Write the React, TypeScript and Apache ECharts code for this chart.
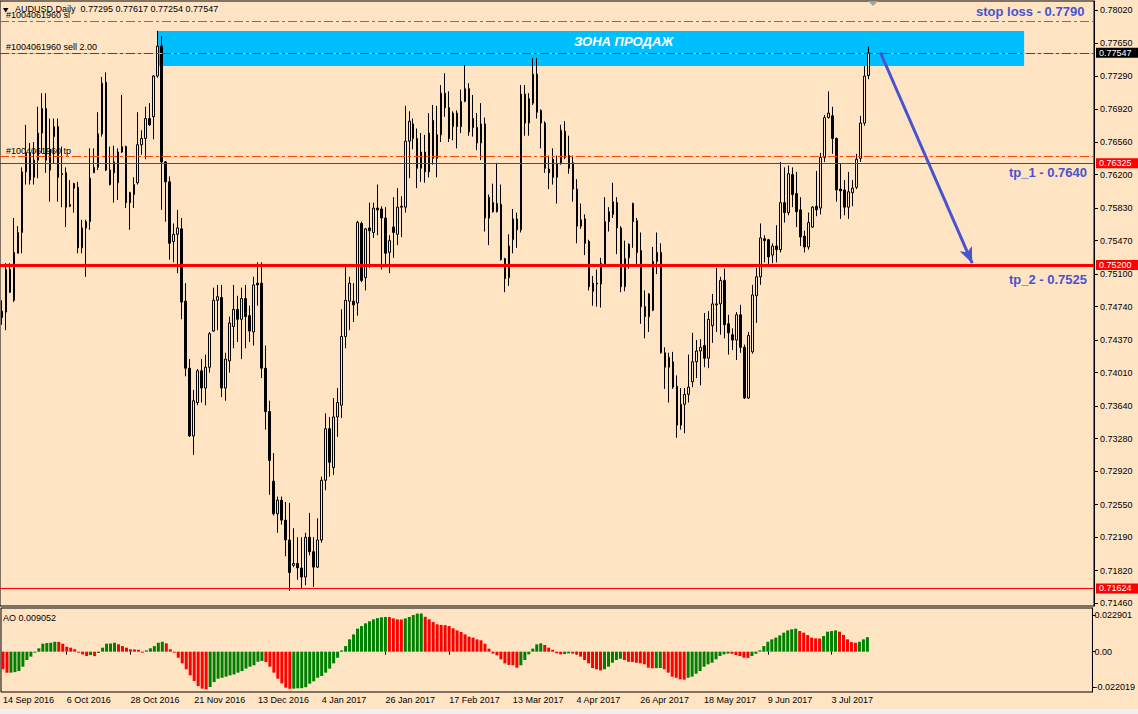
import React, { useEffect, useRef } from 'react';
import * as echarts from 'echarts';

// [open, close, low, high] — AUDUSD daily, 14 Sep 2016 .. 14 Jul 2017
const ohlc: number[][] = [
  [0.7469, 0.7462, 0.7454, 0.7481], [0.7468, 0.7515, 0.7448, 0.7522], [0.7515, 0.7490, 0.7489, 0.7522], [0.7481, 0.7534, 0.7479, 0.7572], [0.7533, 0.7556, 0.7533, 0.7563],
  [0.7556, 0.7623, 0.7533, 0.7628], [0.7623, 0.7644, 0.7609, 0.7675], [0.7644, 0.7614, 0.7609, 0.7655], [0.7617, 0.7636, 0.7609, 0.7656], [0.7636, 0.7666, 0.7616, 0.7695],
  [0.7666, 0.7693, 0.7644, 0.7710], [0.7693, 0.7636, 0.7622, 0.7710], [0.7625, 0.7648, 0.7590, 0.7682], [0.7662, 0.7673, 0.7632, 0.7682], [0.7673, 0.7617, 0.7590, 0.7682],
  [0.7621, 0.7620, 0.7584, 0.7651], [0.7622, 0.7584, 0.7562, 0.7628], [0.7585, 0.7587, 0.7584, 0.7614], [0.7610, 0.7605, 0.7578, 0.7611], [0.7606, 0.7539, 0.7533, 0.7612],
  [0.7539, 0.7561, 0.7533, 0.7570], [0.7561, 0.7568, 0.7507, 0.7570], [0.7568, 0.7616, 0.7559, 0.7649], [0.7622, 0.7628, 0.7622, 0.7649], [0.7628, 0.7665, 0.7625, 0.7689],
  [0.7665, 0.7721, 0.7662, 0.7728], [0.7722, 0.7625, 0.7624, 0.7733], [0.7625, 0.7609, 0.7608, 0.7651], [0.7622, 0.7634, 0.7589, 0.7652], [0.7611, 0.7645, 0.7592, 0.7649],
  [0.7645, 0.7651, 0.7644, 0.7708], [0.7651, 0.7589, 0.7583, 0.7652], [0.7600, 0.7589, 0.7559, 0.7601], [0.7598, 0.7609, 0.7583, 0.7617], [0.7611, 0.7653, 0.7609, 0.7689],
  [0.7653, 0.7660, 0.7642, 0.7669], [0.7660, 0.7682, 0.7637, 0.7695], [0.7682, 0.7675, 0.7674, 0.7699], [0.7684, 0.7729, 0.7659, 0.7730], [0.7729, 0.7762, 0.7727, 0.7779],
  [0.7762, 0.7634, 0.7581, 0.7773], [0.7634, 0.7612, 0.7568, 0.7635], [0.7612, 0.7544, 0.7526, 0.7618], [0.7546, 0.7554, 0.7523, 0.7566], [0.7554, 0.7561, 0.7511, 0.7581],
  [0.7560, 0.7479, 0.7460, 0.7572], [0.7480, 0.7406, 0.7397, 0.7500], [0.7406, 0.7331, 0.7330, 0.7416], [0.7331, 0.7370, 0.7310, 0.7382], [0.7368, 0.7403, 0.7365, 0.7405],
  [0.7403, 0.7384, 0.7368, 0.7416], [0.7384, 0.7407, 0.7365, 0.7421], [0.7407, 0.7444, 0.7401, 0.7446], [0.7447, 0.7481, 0.7446, 0.7495], [0.7481, 0.7485, 0.7448, 0.7498],
  [0.7484, 0.7384, 0.7374, 0.7498], [0.7384, 0.7416, 0.7370, 0.7423], [0.7414, 0.7456, 0.7401, 0.7463], [0.7452, 0.7471, 0.7428, 0.7498], [0.7471, 0.7460, 0.7435, 0.7486],
  [0.7460, 0.7483, 0.7416, 0.7495], [0.7483, 0.7463, 0.7428, 0.7498], [0.7464, 0.7447, 0.7435, 0.7475], [0.7446, 0.7498, 0.7431, 0.7507], [0.7500, 0.7498, 0.7475, 0.7523],
  [0.7500, 0.7406, 0.7395, 0.7523], [0.7406, 0.7358, 0.7338, 0.7431], [0.7358, 0.7304, 0.7266, 0.7370], [0.7281, 0.7245, 0.7243, 0.7312], [0.7245, 0.7260, 0.7224, 0.7264],
  [0.7260, 0.7238, 0.7233, 0.7264], [0.7238, 0.7216, 0.7198, 0.7258], [0.7216, 0.7180, 0.7160, 0.7257], [0.7188, 0.7190, 0.7186, 0.7229], [0.7190, 0.7185, 0.7172, 0.7219],
  [0.7185, 0.7175, 0.7163, 0.7219], [0.7175, 0.7219, 0.7166, 0.7224], [0.7219, 0.7203, 0.7199, 0.7246], [0.7203, 0.7186, 0.7164, 0.7219], [0.7186, 0.7216, 0.7185, 0.7240],
  [0.7216, 0.7282, 0.7213, 0.7286], [0.7282, 0.7339, 0.7271, 0.7356], [0.7339, 0.7302, 0.7286, 0.7352], [0.7296, 0.7352, 0.7288, 0.7373], [0.7352, 0.7368, 0.7330, 0.7384],
  [0.7365, 0.7441, 0.7351, 0.7471], [0.7441, 0.7481, 0.7428, 0.7518], [0.7480, 0.7500, 0.7448, 0.7507], [0.7480, 0.7476, 0.7457, 0.7500], [0.7478, 0.7567, 0.7464, 0.7569],
  [0.7566, 0.7503, 0.7501, 0.7568], [0.7506, 0.7560, 0.7492, 0.7561], [0.7561, 0.7558, 0.7517, 0.7589], [0.7556, 0.7583, 0.7550, 0.7589], [0.7583, 0.7581, 0.7553, 0.7609],
  [0.7582, 0.7572, 0.7515, 0.7585], [0.7572, 0.7533, 0.7520, 0.7584], [0.7534, 0.7547, 0.7511, 0.7553], [0.7562, 0.7556, 0.7528, 0.7595], [0.7554, 0.7584, 0.7542, 0.7605],
  [0.7585, 0.7584, 0.7551, 0.7596], [0.7584, 0.7657, 0.7578, 0.7696], [0.7657, 0.7679, 0.7616, 0.7690], [0.7676, 0.7660, 0.7648, 0.7682], [0.7660, 0.7627, 0.7605, 0.7671],
  [0.7627, 0.7645, 0.7612, 0.7666], [0.7645, 0.7623, 0.7611, 0.7664], [0.7623, 0.7666, 0.7617, 0.7688], [0.7680, 0.7638, 0.7631, 0.7697], [0.7638, 0.7664, 0.7617, 0.7696],
  [0.7664, 0.7710, 0.7656, 0.7719], [0.7710, 0.7694, 0.7684, 0.7732], [0.7694, 0.7660, 0.7656, 0.7712], [0.7673, 0.7688, 0.7658, 0.7690], [0.7688, 0.7673, 0.7649, 0.7691],
  [0.7673, 0.7701, 0.7666, 0.7714], [0.7701, 0.7715, 0.7700, 0.7741], [0.7715, 0.7667, 0.7663, 0.7721], [0.7682, 0.7672, 0.7662, 0.7708], [0.7672, 0.7655, 0.7647, 0.7688],
  [0.7655, 0.7676, 0.7636, 0.7699], [0.7676, 0.7572, 0.7557, 0.7683], [0.7572, 0.7595, 0.7542, 0.7598], [0.7589, 0.7579, 0.7578, 0.7610], [0.7579, 0.7588, 0.7578, 0.7633],
  [0.7587, 0.7526, 0.7525, 0.7609], [0.7527, 0.7505, 0.7490, 0.7528], [0.7506, 0.7541, 0.7497, 0.7554], [0.7548, 0.7571, 0.7533, 0.7582], [0.7571, 0.7559, 0.7539, 0.7578],
  [0.7559, 0.7709, 0.7556, 0.7719], [0.7709, 0.7677, 0.7663, 0.7719], [0.7677, 0.7704, 0.7663, 0.7710], [0.7699, 0.7731, 0.7697, 0.7749], [0.7731, 0.7689, 0.7682, 0.7749],
  [0.7691, 0.7677, 0.7649, 0.7692], [0.7677, 0.7627, 0.7622, 0.7679], [0.7626, 0.7622, 0.7604, 0.7641], [0.7637, 0.7617, 0.7609, 0.7649], [0.7617, 0.7632, 0.7588, 0.7641],
  [0.7632, 0.7669, 0.7631, 0.7675], [0.7668, 0.7639, 0.7637, 0.7679], [0.7641, 0.7627, 0.7621, 0.7663], [0.7633, 0.7604, 0.7590, 0.7641], [0.7604, 0.7563, 0.7544, 0.7615],
  [0.7563, 0.7570, 0.7560, 0.7588], [0.7571, 0.7544, 0.7531, 0.7576], [0.7546, 0.7496, 0.7492, 0.7548], [0.7491, 0.7500, 0.7475, 0.7508], [0.7500, 0.7499, 0.7474, 0.7515],
  [0.7499, 0.7522, 0.7473, 0.7528], [0.7521, 0.7568, 0.7519, 0.7595], [0.7568, 0.7579, 0.7557, 0.7584], [0.7576, 0.7590, 0.7572, 0.7611], [0.7589, 0.7561, 0.7532, 0.7595],
  [0.7561, 0.7496, 0.7490, 0.7563], [0.7496, 0.7527, 0.7491, 0.7547], [0.7528, 0.7543, 0.7516, 0.7544], [0.7588, 0.7568, 0.7539, 0.7589], [0.7569, 0.7534, 0.7520, 0.7572],
  [0.7536, 0.7474, 0.7455, 0.7556], [0.7474, 0.7463, 0.7439, 0.7492], [0.7463, 0.7488, 0.7446, 0.7489], [0.7470, 0.7524, 0.7469, 0.7540], [0.7524, 0.7534, 0.7510, 0.7556],
  [0.7534, 0.7423, 0.7422, 0.7544], [0.7423, 0.7407, 0.7383, 0.7429], [0.7407, 0.7418, 0.7368, 0.7423], [0.7413, 0.7385, 0.7383, 0.7424], [0.7386, 0.7343, 0.7329, 0.7398],
  [0.7343, 0.7366, 0.7338, 0.7384], [0.7366, 0.7377, 0.7334, 0.7384], [0.7377, 0.7385, 0.7368, 0.7421], [0.7391, 0.7413, 0.7385, 0.7445], [0.7413, 0.7425, 0.7395, 0.7437],
  [0.7425, 0.7429, 0.7387, 0.7438], [0.7431, 0.7417, 0.7407, 0.7467], [0.7417, 0.7460, 0.7406, 0.7469], [0.7453, 0.7477, 0.7434, 0.7488], [0.7476, 0.7477, 0.7446, 0.7517],
  [0.7477, 0.7503, 0.7443, 0.7507], [0.7503, 0.7454, 0.7439, 0.7516], [0.7455, 0.7445, 0.7421, 0.7465], [0.7443, 0.7437, 0.7426, 0.7450], [0.7437, 0.7465, 0.7415, 0.7468],
  [0.7465, 0.7429, 0.7423, 0.7476], [0.7429, 0.7373, 0.7372, 0.7432], [0.7373, 0.7442, 0.7372, 0.7446], [0.7424, 0.7487, 0.7422, 0.7498], [0.7486, 0.7507, 0.7456, 0.7517],
  [0.7507, 0.7550, 0.7498, 0.7566], [0.7549, 0.7547, 0.7523, 0.7553], [0.7548, 0.7529, 0.7518, 0.7549], [0.7531, 0.7541, 0.7522, 0.7544], [0.7541, 0.7537, 0.7523, 0.7564],
  [0.7537, 0.7589, 0.7534, 0.7634], [0.7589, 0.7578, 0.7567, 0.7628], [0.7578, 0.7621, 0.7575, 0.7630], [0.7620, 0.7598, 0.7584, 0.7628], [0.7599, 0.7579, 0.7562, 0.7623],
  [0.7581, 0.7551, 0.7541, 0.7595], [0.7552, 0.7540, 0.7534, 0.7558], [0.7540, 0.7567, 0.7537, 0.7578], [0.7562, 0.7584, 0.7561, 0.7585], [0.7585, 0.7581, 0.7574, 0.7624],
  [0.7583, 0.7639, 0.7576, 0.7644], [0.7639, 0.7683, 0.7634, 0.7686], [0.7683, 0.7688, 0.7682, 0.7712], [0.7685, 0.7660, 0.7643, 0.7695], [0.7660, 0.7603, 0.7590, 0.7661],
  [0.7604, 0.7602, 0.7571, 0.7632], [0.7603, 0.7584, 0.7575, 0.7614], [0.7584, 0.7601, 0.7571, 0.7623], [0.7600, 0.7605, 0.7585, 0.7614], [0.7606, 0.7637, 0.7604, 0.7643],
  [0.7638, 0.7677, 0.7634, 0.7685], [0.7677, 0.7729, 0.7674, 0.7740], [0.77295, 0.77547, 0.77254, 0.77617],
];

// Awesome Oscillator values, one per candle
const ao: number[] = [
  -0.0110, -0.0132, -0.0131, -0.0128, -0.0121, -0.0094, -0.0052, -0.0031, -0.0006, 0.0021,
  0.0050, 0.0054, 0.0056, 0.0062, 0.0061, 0.0050, 0.0031, 0.0025, 0.0015, -0.0006,
  -0.0017, -0.0027, -0.0021, -0.0028, -0.0008, 0.0025, 0.0050, 0.0051, 0.0056, 0.0046,
  0.0035, 0.0025, 0.0015, 0.0014, 0.0012, -0.0006, 0.0008, 0.0021, 0.0035, 0.0056,
  0.0062, 0.0052, 0.0015, -0.0006, -0.0038, -0.0073, -0.0110, -0.0148, -0.0183, -0.0215,
  -0.0231, -0.0235, -0.0221, -0.0190, -0.0169, -0.0163, -0.0156, -0.0148, -0.0142, -0.0131,
  -0.0121, -0.0106, -0.0094, -0.0085, -0.0063, -0.0058, -0.0065, -0.0094, -0.0131, -0.0169,
  -0.0198, -0.0225, -0.0232, -0.0231, -0.0229, -0.0228, -0.0222, -0.0200, -0.0185, -0.0163,
  -0.0152, -0.0131, -0.0106, -0.0073, -0.0038, 0.0008, 0.0035, 0.0077, 0.0108, 0.0144,
  0.0160, 0.0177, 0.0190, 0.0202, 0.0210, 0.0215, 0.0217, 0.0216, 0.0208, 0.0202,
  0.0201, 0.0208, 0.0217, 0.0229, 0.0238, 0.0239, 0.0218, 0.0202, 0.0185, 0.0171,
  0.0167, 0.0166, 0.0160, 0.0146, 0.0133, 0.0123, 0.0108, 0.0094, 0.0088, 0.0077,
  0.0071, 0.0050, 0.0019, -0.0012, -0.0023, -0.0048, -0.0073, -0.0083, -0.0085, -0.0100,
  -0.0085, -0.0052, -0.0017, 0.0019, 0.0046, 0.0052, 0.0042, 0.0025, 0.0012, -0.0010,
  -0.0017, -0.0015, -0.0010, -0.0012, -0.0017, -0.0031, -0.0052, -0.0073, -0.0102, -0.0110,
  -0.0117, -0.0110, -0.0094, -0.0069, -0.0052, -0.0044, -0.0052, -0.0063, -0.0064, -0.0069,
  -0.0073, -0.0079, -0.0100, -0.0104, -0.0103, -0.0102, -0.0110, -0.0131, -0.0156, -0.0163,
  -0.0173, -0.0175, -0.0163, -0.0156, -0.0138, -0.0121, -0.0094, -0.0079, -0.0069, -0.0048,
  -0.0027, -0.0017, -0.0012, -0.0013, -0.0021, -0.0027, -0.0038, -0.0039, -0.0027, -0.0013,
  0.0008, 0.0035, 0.0062, 0.0077, 0.0088, 0.0102, 0.0119, 0.0133, 0.0140, 0.0144,
  0.0129, 0.0119, 0.0104, 0.0088, 0.0083, 0.0082, 0.0098, 0.0125, 0.0129, 0.0133,
  0.0125, 0.0104, 0.0077, 0.0060, 0.0056, 0.0062, 0.0077, 0.009052,
];

const priceTicks = [0.7802, 0.7765, 0.7729, 0.7692, 0.7656, 0.762, 0.7583, 0.7547, 0.751, 0.7474, 0.7437, 0.7401, 0.7364, 0.7328, 0.7292, 0.7255, 0.7219, 0.7182, 0.7146];
const aoTicks = [0.022901, 0, -0.022019];
const dateLabels = ['14 Sep 2016', '6 Oct 2016', '28 Oct 2016', '21 Nov 2016', '13 Dec 2016', '4 Jan 2017', '26 Jan 2017', '17 Feb 2017', '13 Mar 2017', '4 Apr 2017', '26 Apr 2017', '18 May 2017', '9 Jun 2017', '3 Jul 2017'];

const stopLoss = 0.779;
const entry = 0.77547;
const takeProfit = 0.764;
const redLevels = [0.76325, 0.752, 0.71624];
const zoneTop = 0.77788;
const zoneBottom = 0.77401;
const arrowFrom = [220, 0.7755];
const arrowTo = [242.5, 0.7522];

const MONTHS = ['Jan', 'Feb', 'Mar', 'Apr', 'May', 'Jun', 'Jul', 'Aug', 'Sep', 'Oct', 'Nov', 'Dec'];
const TOTAL_SLOTS = 274;
const categories: string[] = [];
{
  const d = new Date(Date.UTC(2016, 8, 14));
  while (categories.length < TOTAL_SLOTS) {
    const wd = d.getUTCDay();
    if (wd !== 0 && wd !== 6) categories.push(`${d.getUTCDate()} ${MONTHS[d.getUTCMonth()]} ${d.getUTCFullYear()}`);
    d.setUTCDate(d.getUTCDate() + 1);
  }
}

const BG = '#FFE4C4';
const FONT = '"Liberation Sans", Arial, sans-serif';
const BLUE = '#4753CF';
const dashDot = [9, 3, 3, 3];

const showDate = (_i: number, v: string) => dateLabels.includes(v);

export default function App() {
  const ref = useRef<HTMLDivElement>(null);
  useEffect(() => {
    if (!ref.current) return;
    const chart = echarts.init(ref.current, null, { renderer: 'svg' });
    const boxLabel = (text: string, bg: string) => ({
      show: true, position: 'end', distance: 2, formatter: text, backgroundColor: bg, color: '#fff',
      fontSize: 9, fontFamily: FONT, padding: [1, 8, 0, 3], lineHeight: 9,
    });
    const startLabel = (text: string) => ({
      show: true, position: 'insideStartTop', distance: [6, 1], formatter: text, color: '#000', fontSize: 9, fontFamily: FONT,
    });
    const option: any = {
      animation: false,
      backgroundColor: BG,
      textStyle: { fontFamily: FONT },
      grid: [
        { left: -2.5, right: 44, top: 1, height: 605, show: true, borderColor: '#000', borderWidth: 1 },
        { left: -2.5, right: 44, top: 608, height: 84, show: true, borderColor: '#000', borderWidth: 1 },
      ],
      xAxis: [
        { type: 'category', gridIndex: 0, data: categories, boundaryGap: true, axisLine: { show: false }, axisTick: { show: false }, axisLabel: { show: false }, splitLine: { show: false } },
        {
          type: 'category', gridIndex: 1, data: categories, boundaryGap: true, axisLine: { show: false },
          axisTick: { show: true, alignWithLabel: true, interval: showDate, length: 3, lineStyle: { color: '#000' } },
          axisLabel: { interval: showDate, align: 'left', margin: 3, fontSize: 9, color: '#000', fontFamily: FONT },
          splitLine: { show: false },
        },
      ],
      yAxis: [
        {
          type: 'value', gridIndex: 0, position: 'right', min: 0.7143, max: 0.781195,
          axisLine: { show: true, lineStyle: { color: '#000' } },
          axisTick: { show: true, customValues: priceTicks, length: 4, lineStyle: { color: '#000' } },
          axisLabel: { customValues: priceTicks, formatter: (v: number) => v.toFixed(5), margin: 6, fontSize: 9, color: '#000', fontFamily: FONT },
          splitLine: { show: false },
        },
        {
          type: 'value', gridIndex: 1, position: 'right', min: -0.0252, max: 0.0273,
          axisLine: { show: true, lineStyle: { color: '#000' } },
          axisTick: { show: true, customValues: aoTicks, length: 3, lineStyle: { color: '#000' } },
          axisLabel: { customValues: aoTicks, formatter: (v: number) => (v === 0 ? '0.00' : v.toFixed(6)), margin: 2, fontSize: 9, color: '#000', fontFamily: FONT },
          splitLine: { show: false },
        },
      ],
      series: [
        {
          type: 'line', xAxisIndex: 0, yAxisIndex: 0, data: [], z: 1, silent: true,
          markArea: {
            silent: true,
            itemStyle: { color: '#00BFFF' },
            label: { show: false },
            data: [[{ coord: [39, zoneTop] }, { coord: [256, zoneBottom] }]],
          },
        },
        {
          type: 'candlestick', xAxisIndex: 0, yAxisIndex: 0, z: 3, data: ohlc, barWidth: 2,
          itemStyle: { color: BG, color0: '#000', borderColor: '#000', borderColor0: '#000', borderWidth: 1 },
          markLine: {
            silent: true, symbol: ['none', 'none'], animation: false, precision: 6,
            label: { show: false },
            data: [
              { yAxis: stopLoss, lineStyle: { color: '#FF4500', type: dashDot, width: 1 }, label: startLabel('#1004061960 sl') },
              { yAxis: entry, lineStyle: { color: '#C0C0C0', type: 'solid', width: 1 }, label: boxLabel('0.77547', '#000') },
              { yAxis: entry, lineStyle: { color: '#008000', type: dashDot, width: 1 }, label: startLabel('#1004061960 sell 2.00') },
              { yAxis: takeProfit, lineStyle: { color: '#FF4500', type: dashDot, width: 1 }, label: startLabel('#1004061960 tp') },
              { yAxis: redLevels[0], lineStyle: { color: '#FF0000', type: 'solid', width: 1 }, label: boxLabel('0.76325', '#FF0000') },
              { yAxis: redLevels[1], lineStyle: { color: '#FF0000', type: 'solid', width: 3 }, label: boxLabel('0.75200', '#FF0000') },
              { yAxis: redLevels[2], lineStyle: { color: '#FF0000', type: 'solid', width: 1 }, label: boxLabel('0.71624', '#FF0000') },
              [
                { coord: arrowFrom, symbol: 'none', lineStyle: { color: BLUE, width: 3, type: 'solid' }, label: { show: false } },
                { coord: arrowTo, symbol: 'arrow', symbolSize: [10, 16], lineStyle: { color: BLUE, width: 3, type: 'solid' }, label: { show: false } },
              ],
            ],
          },
        },
        {
          type: 'bar', xAxisIndex: 1, yAxisIndex: 1, barWidth: 3,
          data: ao.map((v, i) => ({ value: v, itemStyle: { color: i > 0 && v > ao[i - 1] ? '#008000' : '#FF0000' } })),
        },
      ],
      graphic: [
        { type: 'rect', left: 0, top: 709, shape: { width: 1138, height: 5 }, style: { fill: '#F0F0F0' }, silent: true },
        { type: 'polygon', shape: { points: [[3, 8], [8.5, 8], [5.75, 12.5]] }, style: { fill: '#000' }, silent: true },
        { type: 'text', left: 15, top: 4, style: { text: 'AUDUSD,Daily  0.77295 0.77617 0.77254 0.77547', fill: '#000', font: `9px ${FONT}` }, silent: true },
        { type: 'polygon', shape: { points: [[868, 1], [878, 1], [873, 6]] }, style: { fill: '#A0A0A0' }, silent: true },
        { type: 'text', x: 574, y: 41, style: { text: 'ЗОНА ПРОДАЖ', fill: '#fff', font: `italic bold 13px ${FONT}`, verticalAlign: 'middle' }, silent: true, z: 10 },
        { type: 'text', x: 976, y: 11.5, style: { text: 'stop loss - 0.7790', fill: BLUE, font: `bold 13px ${FONT}`, verticalAlign: 'middle' }, silent: true, z: 10 },
        { type: 'text', x: 1009, y: 172, style: { text: 'tp_1 - 0.7640', fill: BLUE, font: `bold 13px ${FONT}`, verticalAlign: 'middle' }, silent: true, z: 10 },
        { type: 'text', x: 1009, y: 279.5, style: { text: 'tp_2 - 0.7525', fill: BLUE, font: `bold 13px ${FONT}`, verticalAlign: 'middle' }, silent: true, z: 10 },
        { type: 'text', x: 3, y: 618, style: { text: 'AO 0.009052', fill: '#000', font: `9px ${FONT}`, verticalAlign: 'middle' }, silent: true, z: 10 },
      ],
    };
    chart.setOption(option);
    return () => chart.dispose();
  }, []);
  return <div ref={ref} style={{ position: 'absolute', left: 0, top: 0, width: 1138, height: 714 }} />;
}
